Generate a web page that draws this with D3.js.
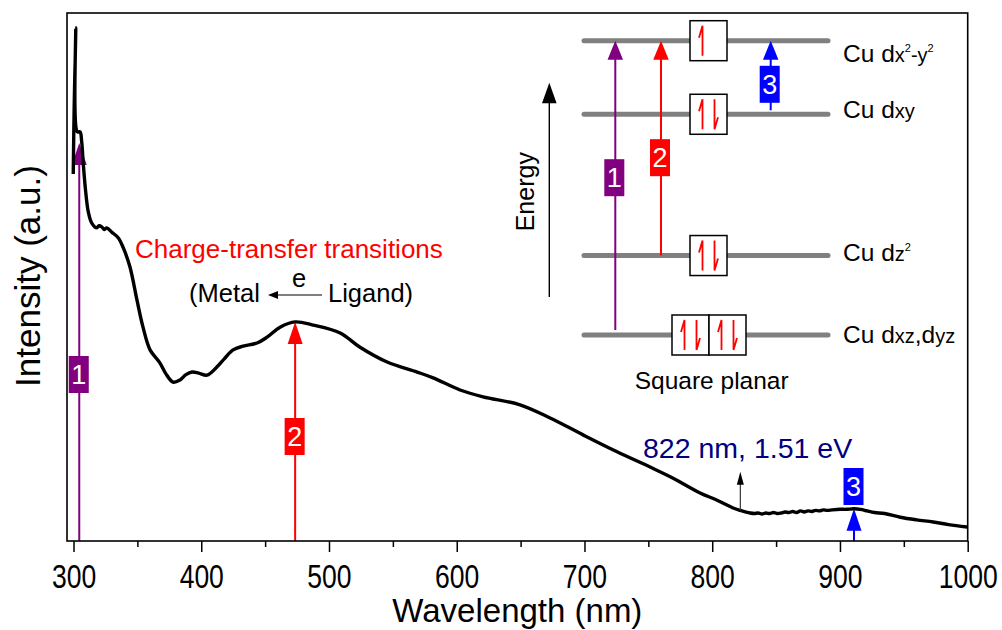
<!DOCTYPE html>
<html>
<head>
<meta charset="utf-8">
<script src="https://cdn.jsdelivr.net/npm/d3@7"></script>
<style>
  html, body { margin: 0; padding: 0; background: #fff; }
  svg { display: block; font-family: "Liberation Sans", Arial, Helvetica, sans-serif; }
</style>
</head>
<body>
<svg id="chart" width="1002" height="630"></svg>
<script>
// ---- Absorption spectrum (normalised intensity, a.u.) ----
const wavelength = [
  299.8, 301.7, 303.0, 305.1, 306.4, 307.7, 309.8, 311.6, 314.3, 318.2,
  320.0, 322.1, 324.0, 326.0, 329.9, 335.1, 339.0, 344.2, 349.7, 354.4,
  359.9, 367.7, 372.0, 377.9, 383.4, 388.0, 392.8, 398.0, 404.5, 412.4,
  418.0, 424.9, 432.7, 443.7, 451.5, 461.7, 473.5, 487.6, 508.7, 524.3,
  545.5, 569.0, 581.5, 602.6, 620.6, 649.6, 673.1, 698.9, 725.5, 751.4,
  769.4, 790.5, 803.0, 816.4, 822.0, 829.7, 833.0, 836.0, 839.0, 842.0,
  845.0, 848.0, 851.0, 854.0, 857.0, 860.0, 863.0, 866.0, 869.0, 872.0,
  875.0, 878.0, 881.0, 884.0, 887.0, 890.0, 894.0, 900.2, 905.0, 911.0,
  916.0, 921.3, 927.0, 935.0, 947.2, 960.0, 973.0, 985.0, 999.6
];
const intensity = [
  0.695, 0.972, 0.775, 0.775, 0.756, 0.712, 0.655, 0.623, 0.602, 0.593,
  0.597, 0.595, 0.590, 0.593, 0.585, 0.574, 0.555, 0.519, 0.456, 0.405,
  0.362, 0.337, 0.318, 0.301, 0.305, 0.315, 0.320, 0.318, 0.314, 0.330,
  0.345, 0.362, 0.369, 0.375, 0.386, 0.405, 0.415, 0.409, 0.394, 0.367,
  0.339, 0.320, 0.309, 0.286, 0.273, 0.258, 0.233, 0.201, 0.169, 0.140,
  0.119, 0.091, 0.078, 0.0625, 0.058, 0.053, 0.052, 0.053, 0.051, 0.053,
  0.052, 0.054, 0.052, 0.053, 0.055, 0.054, 0.056, 0.054, 0.057, 0.055,
  0.057, 0.056, 0.058, 0.057, 0.059, 0.058, 0.059, 0.060, 0.060, 0.061,
  0.060, 0.057, 0.054, 0.052, 0.045, 0.040, 0.036, 0.031, 0.0265
];

// ---- Axis ticks ----
const majorTicks = [300, 400, 500, 600, 700, 800, 900, 1000];
const minorTicks = [350, 450, 550, 650, 750, 850, 950];

// ---- Assigned transitions (numbered) ----
const transitionIds  = ["1", "2", "3"];
const transitionNm   = [304.5, 473.5, 911];
const transitionPeak = [0.754, 0.415, 0.061];
const transitionFrom = ["dxz,dyz", "dz2", "dxy"];
const transitionTo   = ["dx2-y2", "dx2-y2", "dx2-y2"];

// ---- Band edge ----
const edgeNm = 822;
const edgeEv = 1.51;
const edgeTop = 0.131;

// ---- Square-planar Cu d-orbital splitting ----
const levelNames     = ["dx2-y2", "dxy", "dz2", "dxz,dyz"];
const levelEnergy    = [1.0, 0.75, 0.27, 0.0];
const levelElectrons = [[1], [2], [2], [2, 2]];

// ---------------------------------------------------------------
const svg = d3.select("#chart");
const FONT = '"Liberation Sans", Arial, Helvetica, sans-serif';

const plot = { left: 67, right: 967.7, top: 13, bottom: 541 };
const x = d3.scaleLinear().domain([294.9, 1000]).range([plot.left, plot.right]);
const y = d3.scaleLinear().domain([0, 1]).range([plot.bottom, plot.top]);

const colors = { "1": "#800080", "2": "#ff0000", "3": "#0000ff" };

svg.append("rect").attr("width", 1002).attr("height", 630).attr("fill", "#fff");

// filled arrow: vertical shaft + triangular head
function vArrow(g, cx, yFrom, yTip, color, sw, headW, headL) {
  g.append("line")
    .attr("x1", cx).attr("x2", cx)
    .attr("y1", yFrom).attr("y2", yTip + headL * 0.6)
    .attr("stroke", color).attr("stroke-width", sw);
  g.append("path")
    .attr("d", `M${cx},${yTip} L${cx - headW / 2},${yTip + headL} L${cx + headW / 2},${yTip + headL} Z`)
    .attr("fill", color);
}

function numberBox(g, cx, cy, id, color) {
  g.append("rect")
    .attr("x", cx - 10).attr("y", cy - 18.5)
    .attr("width", 20).attr("height", 37)
    .attr("fill", color);
  g.append("text")
    .attr("x", cx).attr("y", cy + 9.5)
    .attr("text-anchor", "middle")
    .attr("font-size", 27).attr("fill", "#fff")
    .text(id);
}

// ---- transition markers in the spectrum ----
const marks = svg.append("g");
const boxCenterY = [374.5, 436.5, 486.5];
transitionIds.forEach((id, i) => {
  const cx = x(transitionNm[i]);
  vArrow(marks, cx, plot.bottom, y(transitionPeak[i]), colors[id], 2, 15, 22);
  numberBox(marks, cx - 0.5, boxCenterY[i], id, colors[id]);
});

// ---- spectrum ----
const pts = wavelength.map((w, i) => [w, intensity[i]]);
svg.append("path")
  .datum(pts)
  .attr("fill", "none")
  .attr("stroke", "#000")
  .attr("stroke-width", 3.4)
  .attr("stroke-linejoin", "round")
  .attr("d", d3.line().x(d => x(d[0])).y(d => y(d[1])).curve(d3.curveCatmullRom.alpha(0.5)));

// ---- band-edge marker ----
{
  const ex = x(edgeNm);
  const y0 = y(intensity[wavelength.indexOf(edgeNm)]);
  const yt = y(edgeTop);
  svg.append("line").attr("x1", ex).attr("x2", ex).attr("y1", y0).attr("y2", yt + 8)
    .attr("stroke", "#333").attr("stroke-width", 1.2);
  svg.append("path").attr("d", `M${ex},${yt} L${ex - 3.5},${yt + 13} L${ex + 3.5},${yt + 13} Z`).attr("fill", "#000");
  svg.append("text")
    .attr("x", 643).attr("y", 458)
    .attr("font-size", 28.5).attr("fill", "#000080")
    .text(`${edgeNm} nm, ${edgeEv.toFixed(2)} eV`);
}

// ---- charge-transfer annotation ----
svg.append("text")
  .attr("x", 135).attr("y", 258)
  .attr("font-size", 26).attr("fill", "#ff0000")
  .text("Charge-transfer transitions");
svg.append("text").attr("x", 189).attr("y", 302).attr("font-size", 25.5).text("(Metal");
svg.append("text").attr("x", 328).attr("y", 302).attr("font-size", 25.5).text("Ligand)");
svg.append("text").attr("x", 299).attr("y", 287).attr("font-size", 25.5).attr("text-anchor", "middle").text("e");
svg.append("line").attr("x1", 322).attr("x2", 274).attr("y1", 295).attr("y2", 295)
  .attr("stroke", "#000").attr("stroke-width", 1.2);
svg.append("path").attr("d", "M268,295 L278,291 L278,299 Z").attr("fill", "#000");

// ---- energy level diagram ----
const inset = svg.append("g");
const eY = d3.scaleLinear().domain([0, 1]).range([335, 40.7]);
const lvlX0 = 584, lvlX1 = 828, boxCX = 708.5, boxW = 37, boxH = 40;

// energy axis
inset.append("line").attr("x1", 549.3).attr("x2", 549.3).attr("y1", 297).attr("y2", 96)
  .attr("stroke", "#000").attr("stroke-width", 1.4);
inset.append("path").attr("d", "M549.3,82.7 L542,103.3 L556.6,103.3 Z").attr("fill", "#000");
inset.append("text")
  .attr("transform", "translate(534,191.7) rotate(-90)")
  .attr("text-anchor", "middle").attr("font-size", 25)
  .text("Energy");

function harpoon(g, cx, cy, up) {
  const h = 15;
  const d = up
    ? `M${cx},${cy + h} L${cx},${cy - h} L${cx - 3.5},${cy - h + 12}`
    : `M${cx},${cy - h} L${cx},${cy + h} L${cx + 3.5},${cy + h - 12}`;
  g.append("path").attr("d", d).attr("fill", "none")
    .attr("stroke", "#ff0000").attr("stroke-width", 1.8)
    .attr("stroke-linejoin", "miter");
}

levelNames.forEach((name, i) => {
  const ly = eY(levelEnergy[i]);
  inset.append("line").attr("x1", lvlX0).attr("x2", lvlX1).attr("y1", ly).attr("y2", ly)
    .attr("stroke", "#808080").attr("stroke-width", 5).attr("stroke-linecap", "round");
});

// transition arrows between levels
const insetX = [615.3, 661, 770.7];
const insetBoxY = [177.7, 157.7, 84.3];
transitionIds.forEach((id, i) => {
  const yFrom = eY(levelEnergy[levelNames.indexOf(transitionFrom[i])]);
  const yTo = eY(levelEnergy[levelNames.indexOf(transitionTo[i])]);
  const start = i === 0 ? yFrom - 5 : (i === 2 ? yFrom - 4 : yFrom);
  vArrow(inset, insetX[i], start, yTo, colors[id], 2, 15.5, 19);
  numberBox(inset, insetX[i] - 1, insetBoxY[i], id, colors[id]);
});

// orbital boxes with electrons
levelNames.forEach((name, i) => {
  const ly = eY(levelEnergy[i]);
  const occ = levelElectrons[i];
  const n = occ.length;
  const x0 = boxCX - (n * boxW) / 2 + (n > 1 ? 0.5 : 0);
  occ.forEach((e, k) => {
    const bx = x0 + k * boxW;
    inset.append("rect").attr("x", bx).attr("y", ly - boxH / 2)
      .attr("width", boxW).attr("height", boxH)
      .attr("fill", "#fff").attr("stroke", "#000").attr("stroke-width", 1.5);
    const c = bx + boxW / 2;
    harpoon(inset, c - 6, ly, true);
    if (e === 2) harpoon(inset, c + 6, ly, false);
  });
});

// orbital labels: [text, role] runs
const labelRuns = [
  [["Cu d", "n"], ["x", "s"], ["2", "p"], ["-y", "s"], ["2", "p"]],
  [["Cu d", "n"], ["xy", "s"]],
  [["Cu d", "n"], ["z", "s"], ["2", "p"]],
  [["Cu d", "n"], ["xz", "s"], [",d", "n"], ["yz", "s"]]
];
const labelDy = [21, 3.7, 5.7, 8.3];
labelRuns.forEach((runs, i) => {
  const base = eY(levelEnergy[i]) + labelDy[i];
  const t = inset.append("text").attr("x", 843).attr("y", base).attr("font-size", 24.5);
  let shift = 0;
  runs.forEach(([s, role]) => {
    const size = role === "n" ? 24.5 : role === "s" ? 20 : 11;
    const target = role === "p" ? -10 : 0;
    t.append("tspan").attr("font-size", size).attr("dy", target - shift).text(s);
    shift = target;
  });
});

inset.append("text").attr("x", 711.7).attr("y", 389)
  .attr("text-anchor", "middle").attr("font-size", 24.5)
  .text("Square planar");

// ---- axes & frame ----
const axis = svg.append("g")
  .attr("transform", `translate(0,${plot.bottom})`)
  .call(d3.axisBottom(x).tickValues(majorTicks).tickSize(11).tickPadding(12).tickFormat(d3.format("d")));
axis.attr("font-family", FONT).attr("font-size", null);
axis.select(".domain").remove();
axis.selectAll("line").attr("stroke", "#000").attr("stroke-width", 1.5);
axis.selectAll("text").attr("font-size", 34).attr("fill", "#000").attr("transform", "scale(0.78,1)");

const minor = svg.append("g")
  .attr("transform", `translate(0,${plot.bottom})`)
  .call(d3.axisBottom(x).tickValues(minorTicks).tickSize(6).tickFormat(""));
minor.select(".domain").remove();
minor.selectAll("line").attr("stroke", "#000").attr("stroke-width", 1.5);

svg.append("rect")
  .attr("x", plot.left).attr("y", plot.top)
  .attr("width", plot.right - plot.left).attr("height", plot.bottom - plot.top)
  .attr("fill", "none").attr("stroke", "#000").attr("stroke-width", 1.6);

svg.append("text")
  .attr("x", (plot.left + plot.right) / 2).attr("y", 622)
  .attr("text-anchor", "middle").attr("font-size", 33)
  .text("Wavelength (nm)");
svg.append("text")
  .attr("transform", "translate(40,276) rotate(-90)")
  .attr("text-anchor", "middle").attr("font-size", 35)
  .text("Intensity (a.u.)");
</script>
</body>
</html>
